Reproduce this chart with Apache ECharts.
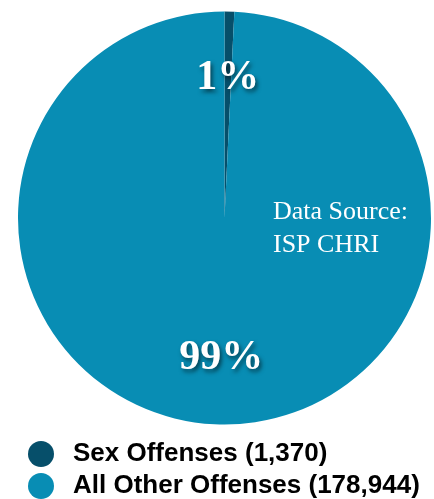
<!DOCTYPE html>
<html><head><meta charset="utf-8">
<script src="https://cdn.jsdelivr.net/npm/echarts@6/dist/echarts.min.js"></script>
<style>html,body{margin:0;padding:0;background:#fff}#c{width:434px;height:499px}</style>
</head><body><div id="c"></div>
<script>
const categories = ['Sex Offenses', 'All Other Offenses'];
const values = [1370, 178944];
const colors = ['#064f6a', '#088db4'];
const sourceText = 'Data Source:\nISP CHRI';

const data = categories.map((n, i) => ({ name: n, value: values[i], itemStyle: { color: colors[i] } }));
const fmt = v => v.toLocaleString('en-US');
const chart = echarts.init(document.getElementById('c'));
chart.setOption({
  animation: false,
  legend: {
    orient: 'vertical', left: 28, top: 441, height: 90, padding: 0, icon: 'circle',
    itemWidth: 26, itemHeight: 26, itemGap: 6,
    selectedMode: false,
    formatter: name => name + ' (' + fmt(values[categories.indexOf(name)]) + ')',
    textStyle: { fontFamily: 'Liberation Sans', fontWeight: 'bold', fontSize: 26, color: '#000', padding: [0, 0, 0, 14] },
    data: categories
  },
  title: {
    text: sourceText, left: 273, top: 196, padding: 0,
    textStyle: { fontFamily: 'Liberation Serif', fontWeight: 'normal', fontSize: 26, color: '#fff', lineHeight: 33 }
  },
  series: [
    {
      type: 'pie', center: [224.5, 218], radius: [0, 206.5], startAngle: 90, clockwise: true,
      label: { show: false }, labelLine: { show: false }, silent: true,
      data: data
    },
    {
      type: 'pie', center: [224.5, 218], radius: [68, 206.5], startAngle: 90, clockwise: true,
      percentPrecision: 0, silent: true,
      itemStyle: { color: 'transparent', borderWidth: 0 },
      label: {
        show: true, position: 'inside', formatter: '{d}%',
        fontFamily: 'Liberation Serif', fontWeight: 'bold', fontSize: 42, color: '#fff',
        textShadowColor: 'rgba(0,0,0,0.55)', textShadowBlur: 4, textShadowOffsetX: 2, textShadowOffsetY: 3
      },
      labelLine: { show: false },
      data: categories.map((n, i) => ({ name: n + ' ', value: values[i] }))
    }
  ]
});
</script></body></html>
